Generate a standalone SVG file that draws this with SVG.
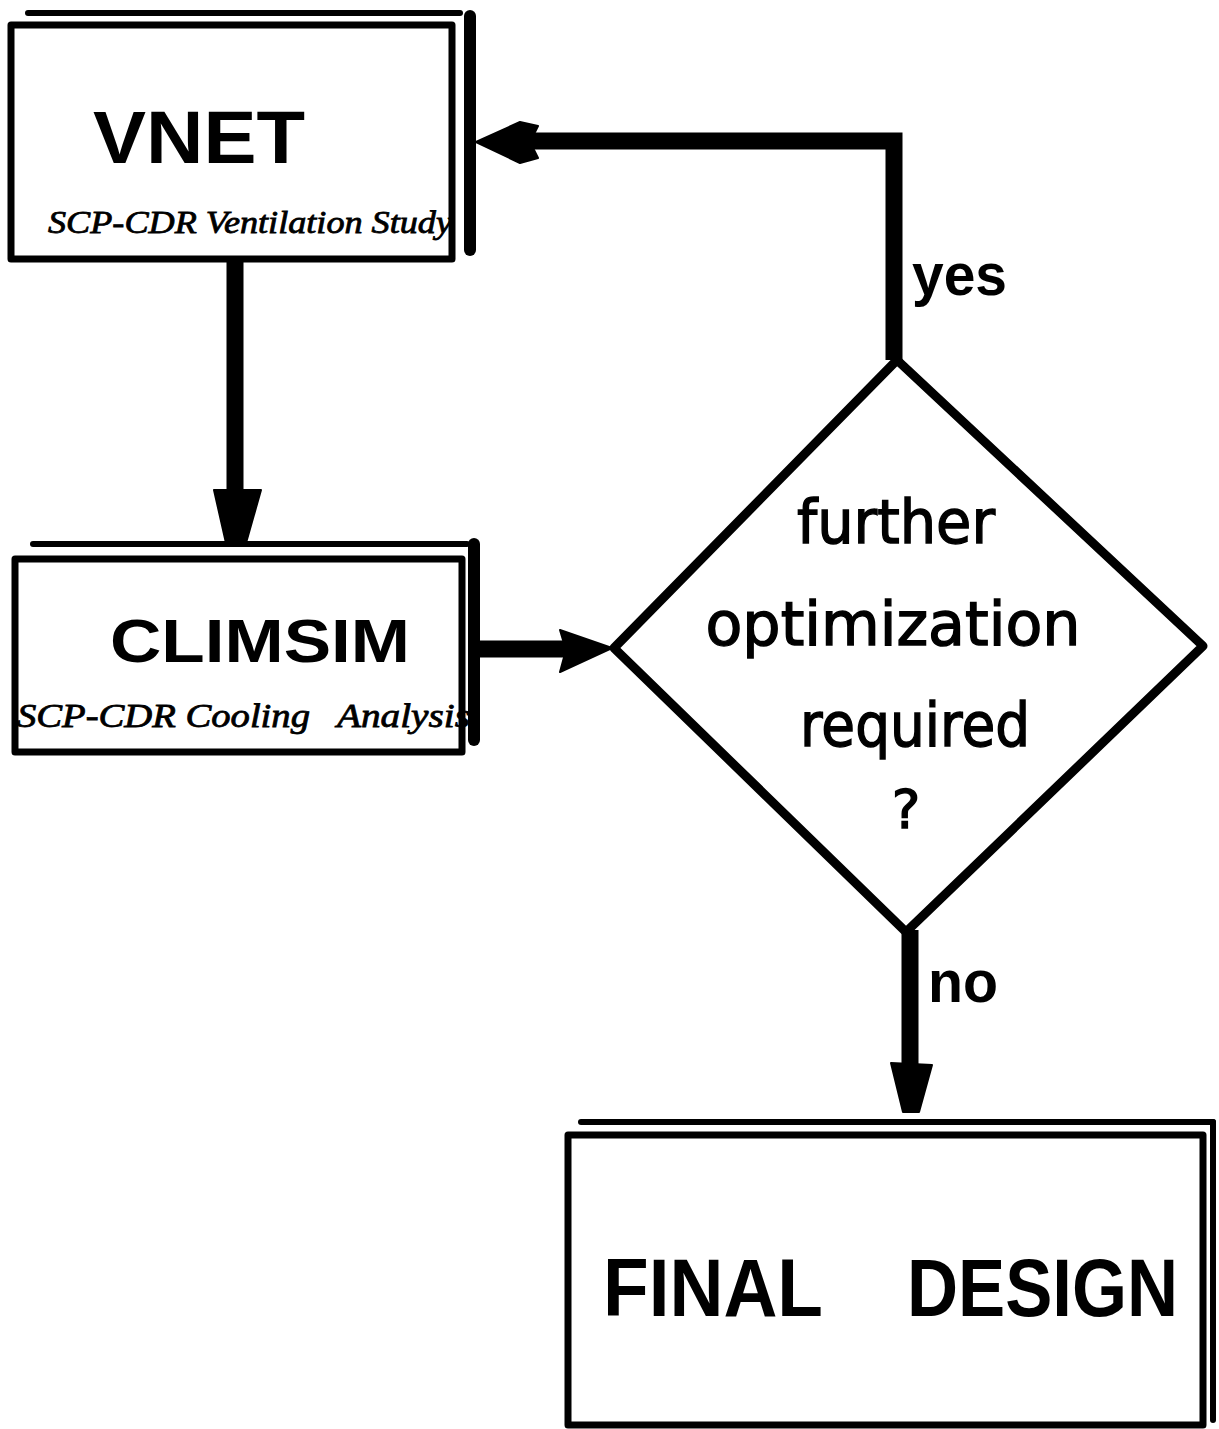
<svg xmlns="http://www.w3.org/2000/svg" width="1219" height="1429" viewBox="0 0 1219 1429">
  <style>
    .ink { fill: none; stroke: #000; stroke-linejoin: round; stroke-linecap: round; }
    .border { stroke-width: 7; }
    .rule { stroke-width: 6; }
    .heavy { stroke-width: 12; }
    .shaft { fill: none; stroke: #000; stroke-width: 17; stroke-linecap: butt; stroke-linejoin: miter; }
    .head { fill: #000; stroke: #000; stroke-width: 2; stroke-linejoin: round; }
    .title { font-family: "Liberation Sans", Arial, sans-serif; font-weight: bold; fill: #000; }
    .note { font-family: "Liberation Serif", "Times New Roman", serif; font-style: italic; fill: #000; stroke: #000; stroke-width: 0.8; }
    .q { font-family: "DejaVu Sans", "Liberation Sans", sans-serif; fill: #000; stroke: #000; stroke-width: 1.4; text-anchor: middle; }
    .label { font-family: "Liberation Sans", Arial, sans-serif; font-weight: bold; fill: #000; }
  </style>

  <rect x="0" y="0" width="1219" height="1429" fill="#fff"/>

  <!-- process box: ventilation network model -->
  <g id="vnet">
    <rect class="ink border" x="11" y="25" width="441" height="234"/>
    <path class="ink rule" d="M28,13 H460"/>
    <path class="ink heavy" d="M470,16 V250"/>
    <text class="title" x="93" y="163" font-size="74" textLength="212" lengthAdjust="spacingAndGlyphs">VNET</text>
    <text class="note" x="48" y="233" font-size="32" textLength="404" lengthAdjust="spacingAndGlyphs">SCP-CDR Ventilation Study</text>
  </g>

  <!-- process box: climate simulation -->
  <g id="climsim">
    <rect class="ink border" x="15" y="559" width="447" height="193"/>
    <path class="ink rule" d="M33,544 H467"/>
    <path class="ink heavy" d="M474,544 V740"/>
    <text class="title" x="110" y="662" font-size="61" textLength="300" lengthAdjust="spacingAndGlyphs">CLIMSIM</text>
    <text class="note" y="727" font-size="34">
      <tspan x="17" textLength="293" lengthAdjust="spacingAndGlyphs">SCP-CDR Cooling</tspan>
      <tspan x="337" textLength="133" lengthAdjust="spacingAndGlyphs">Analysis</tspan>
    </text>
  </g>

  <!-- decision -->
  <g id="decision">
    <polygon class="ink" stroke-width="9" points="897,360 1203,646 906,932 614,648"/>
    <text class="q" x="896" y="543" font-size="60" textLength="198" lengthAdjust="spacingAndGlyphs">further</text>
    <text class="q" x="893" y="645" font-size="60" textLength="375" lengthAdjust="spacingAndGlyphs">optimization</text>
    <text class="q" x="915" y="746" font-size="60" textLength="230" lengthAdjust="spacingAndGlyphs">required</text>
    <text class="q" x="906" y="828" font-size="54">?</text>
  </g>

  <!-- end box -->
  <g id="final-design">
    <rect class="ink border" x="568" y="1135" width="635" height="290"/>
    <path class="ink rule" d="M581,1122 H1213"/>
    <path class="ink rule" d="M1213,1122 V1420"/>
    <text class="title" x="603" y="1316" font-size="82" textLength="220" lengthAdjust="spacingAndGlyphs">FINAL</text>
    <text class="title" x="907" y="1316" font-size="82" textLength="271" lengthAdjust="spacingAndGlyphs">DESIGN</text>
  </g>

  <!-- flow lines and arrowheads -->
  <g id="connectors">
    <!-- VNET down to CLIMSIM -->
    <path class="shaft" d="M235,262 V495"/>
    <polygon class="head" points="214,490 261,490 246,543 226,543"/>

    <!-- CLIMSIM across to the decision -->
    <path class="shaft" d="M478,649 H565" stroke-width="15"/>
    <polygon class="head" points="560,630 612,648 560,672 566,650"/>

    <!-- yes: back up to VNET -->
    <path class="shaft" d="M894,360 V141 H530"/>
    <polygon class="head" points="476,142 520,122 538,126 530,142 538,158 520,163"/>
    <text class="label" x="912" y="295" font-size="60" textLength="95" lengthAdjust="spacingAndGlyphs">yes</text>

    <!-- no: down to the final design -->
    <path class="shaft" d="M910,930 V1070"/>
    <polygon class="head" points="891,1063 932,1065 919,1112 903,1112"/>
    <text class="label" x="928" y="1002" font-size="60" textLength="70" lengthAdjust="spacingAndGlyphs">no</text>
  </g>
</svg>
